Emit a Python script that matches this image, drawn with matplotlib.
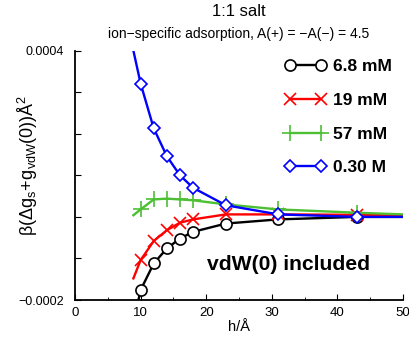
import numpy as np
import matplotlib
matplotlib.use("Agg")
import matplotlib.pyplot as plt
from matplotlib.ticker import MultipleLocator, FixedLocator, FixedFormatter

plt.rcParams['font.family'] = ['Liberation Sans', 'DejaVu Sans']
plt.rcParams['mathtext.fontset'] = 'custom'
plt.rcParams['mathtext.rm'] = 'Liberation Sans'
plt.rcParams['mathtext.it'] = 'Liberation Sans'
plt.rcParams['mathtext.bf'] = 'Liberation Sans:bold'

# --- DATA (values in units of 1e-4) ---
h_pts = [10, 12, 14, 16, 18, 23, 31, 43]
black_pts = [-1.76, -1.12, -0.76, -0.52, -0.36, -0.16, -0.06, 0.0]
red_pts = [-1.04, -0.58, -0.32, -0.14, -0.06, 0.06, 0.06, 0.05]
green_pts = [0.18, 0.42, 0.44, 0.42, 0.40, 0.30, 0.18, 0.10]
blue_pts = [3.21, 2.13, 1.46, 1.00, 0.70, 0.28, 0.06, 0.0]

# curve ends
black_ends = [(9.6, -2.05), (50, 0.0)]
red_ends = [(8.9, -1.48), (50, 0.04)]
green_ends = [(8.9, 0.04), (50, 0.06)]
blue_ends = [(8.9, 4.0), (50, 0.0)]

labels = ["6.8 mM", "19 mM", "57 mM", "0.30 M"]
colors = ["black", "#ff0000", "#4cbf33", "#0000ff"]
markers = ["o", "x", "+", "D"]
msizes = [8, 8, 11, 6]

# --- PLOT ---
fig = plt.figure(figsize=(4.09, 3.42), dpi=100)
ax = fig.add_axes([0.1834, 0.1228, 0.8020, 0.7290])

series = [(black_pts, black_ends), (red_pts, red_ends),
          (green_pts, green_ends), (blue_pts, blue_ends)]
handles = []
for i, (vals, ends) in enumerate(series):
    xs = [ends[0][0]] + h_pts + [ends[1][0]]
    ys = [ends[0][1]] + vals + [ends[1][1]]
    ys = np.array(ys) * 1e-4
    ax.plot(xs, ys, '-', color=colors[i], lw=1.7, zorder=2 + i)
    face = 'white' if markers[i] in ('o', 'D') else colors[i]
    ax.plot(h_pts, np.array(vals) * 1e-4, linestyle='none', marker=markers[i],
            ms=msizes[i], mfc=face, mec=colors[i], mew=1.2, zorder=2 + i)
    h, = ax.plot([], [], '-', color=colors[i], lw=1.7, marker=markers[i],
                 ms=msizes[i], mfc=face, mec=colors[i], mew=1.2)
    handles.append(h)

ax.set_xlim(0, 50)
ax.set_ylim(-0.0002, 0.0004)

ax.spines['top'].set_visible(False)
ax.spines['right'].set_visible(False)
ax.spines['left'].set_linewidth(1.3)
ax.spines['bottom'].set_linewidth(1.3)

ax.xaxis.set_major_locator(MultipleLocator(10))
ax.xaxis.set_minor_locator(MultipleLocator(5))
yt = [-0.0002, -0.0001, 0, 0.0001, 0.0002, 0.0003, 0.0004]
ax.yaxis.set_major_locator(FixedLocator(yt))
ax.yaxis.set_major_formatter(FixedFormatter(["\u22120.0002", "", "", "", "", "", "0.0004"]))
ax.tick_params(axis='both', which='both', direction='in')
ax.tick_params(axis='x', which='major', length=4, labelsize=9.5, pad=5)
ax.tick_params(axis='x', which='minor', length=2.5)
ax.tick_params(axis='y', which='major', length=4, labelsize=9, pad=8)

ax.set_xlabel("h/\u00c5", fontsize=10.5, labelpad=1)
ax.set_ylabel(r"$\mathrm{\beta(\Delta g_s\!+\!g_{vdW}(0))\AA^2}$", fontsize=13)
ax.yaxis.set_label_coords(-0.107, 0.54)

fig.text(0.584, 1 - 12 / 342, "1:1 salt", ha='center', va='center', fontsize=12)
fig.text(0.584, 1 - 34 / 342, "ion\u2212specific adsorption, A(+) = \u2212A(\u2212) = 4.5",
         ha='center', va='center', fontsize=10)

ax.text(288.5 / 409, 1 - 265 / 342, "vdW(0) included", transform=fig.transFigure,
        ha='center', va='center', fontsize=15.2, fontweight='bold')

leg = ax.legend(handles, labels, loc='upper left', bbox_to_anchor=(285 / 409, 1 - 59 / 342),
                bbox_transform=fig.transFigure, frameon=False, borderpad=0,
                borderaxespad=0, handlelength=2.4, handletextpad=0.35,
                labelspacing=1.07, numpoints=2, prop={'weight': 'bold', 'size': 12.5})

fig.savefig("out.png", dpi=100)
